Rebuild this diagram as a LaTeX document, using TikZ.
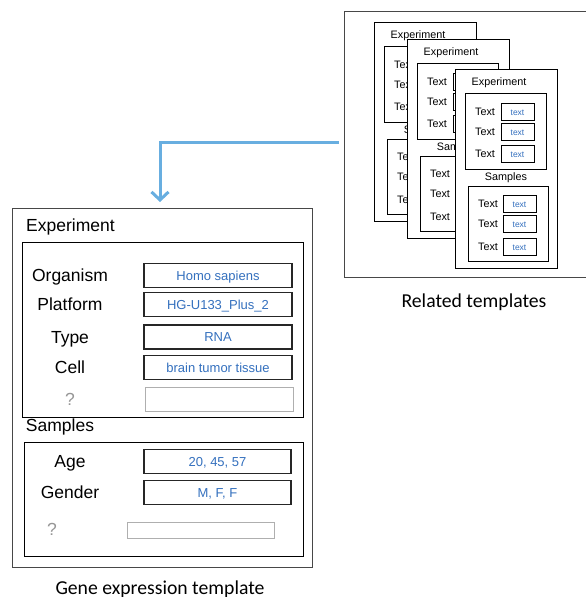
\documentclass[tikz,border=0pt]{standalone}
\usepackage{fontspec}
\setmainfont{Liberation Sans}
\newfontfamily\capfont{Carlito}
\usepackage{tikz}
\usetikzlibrary{arrows.meta}
\usetikzlibrary{positioning}
\usepackage{xcolor}
\definecolor{valblue}{RGB}{52,112,190}
\definecolor{flowblue}{RGB}{104,174,224}
\definecolor{qgray}{RGB}{150,150,150}
\definecolor{boxgray}{RGB}{175,175,175}
\tikzset{
  every node/.style={font=\rmfamily}
}

\begin{document}
\begin{tikzpicture}[x=1pt,y=-1pt]
  % Define styles for frames, panels and fields
  \tikzset{
    frame/.style={
      draw=black!72,
      fill=white,
      line width=1pt,
      inner sep=0pt
    },
    panel/.style={
      draw=black,
      line width=1pt,
      inner sep=0pt
    },
    lbl/.style={
      font=\fontsize{17.5}{20}\selectfont,
      text height=12.5pt,
      text depth=0pt,
      inner sep=0pt
    },
    field/.style={
      draw=black!85,
      line width=1.1pt,
      minimum width=148pt,
      minimum height=24pt,
      inner sep=0pt,
      text=valblue,
      font=\fontsize{13}{15}\selectfont,
      text height=9.3pt,
      text depth=0pt
    },
    card/.style={
      draw=black,
      fill=white,
      line width=0.9pt,
      minimum width=102pt,
      minimum height=199pt,
      inner sep=0pt
    },
    cardpanel/.style={
      draw=black,
      line width=0.9pt,
      inner sep=0pt
    },
    cardtxt/.style={
      font=\fontsize{10.8}{12}\selectfont,
      text height=7.7pt,
      text depth=0pt,
      inner sep=0pt
    },
    cardfield/.style={
      draw=black,
      line width=0.9pt,
      minimum width=33pt,
      minimum height=17pt,
      inner sep=0pt,
      text=valblue,
      font=\fontsize{8.5}{10}\selectfont,
      text height=6pt,
      text depth=0pt
    },
    caption/.style={
      font=\capfont\fontsize{19.7}{22}\selectfont,
      text height=12.7pt,
      text depth=0pt,
      inner sep=0pt
    },
    flow/.style={
      draw=flowblue,
      line width=3pt,
      -{Straight Barb[length=8pt,width=17pt]}
    }
  }
  \useasboundingbox (0,0) rectangle (586,597);
  \clip (0,0) rectangle (586,597);

  % Related templates (stacked cards)
  \node[frame, minimum width=250pt, minimum height=266pt] (related) at (469,144) {};
  \foreach \cx/\cy/\k in {374/22/a, 407/39/b, 455/69/c} {
    \begin{scope}[shift={(\cx,\cy)}]
      \node[card] (card\k) at (51,99.5) {};
      \node[cardtxt] (ctitle\k) at (44,13) {Experiment};
      \node[cardpanel, minimum width=81pt, minimum height=76pt] (cexp\k) at (50.5,62) {};
      \foreach \ry [count=\r] in {43,63,85} {
        \node[cardtxt] (cel\k\r) at (30,\ry) {Text};
        \node[cardfield] (cef\k\r) at (62.5,\ry) {text};
      }
      \node[cardtxt] (csam\k) at (51,108) {Samples};
      \node[cardpanel, minimum width=80pt, minimum height=75pt] (csp\k) at (53,154.5) {};
      \foreach \ry [count=\r] in {135,155,178} {
        \node[cardtxt] (csl\k\r) at (33,\ry) {Text};
        \node[cardfield] (csf\k\r) at (64.5,\ry) {text};
      }
    \end{scope}
  }
  \node[caption] (relcap) at (474,301) {Related templates};

  % Gene expression template
  \node[frame, minimum width=300pt, minimum height=359pt] (main) at (162,387.5) {};
  \node[lbl] (exptitle) at (70.5,225) {Experiment};
  \node[panel, minimum width=281pt, minimum height=175pt] (exppanel) at (162.5,329.5) {};
  \foreach \lab/\val/\y/\n in {Organism/Homo sapiens/275.5/org,
                               Platform/HG-U133\_Plus\_2/304.5/plat,
                               Type/RNA/337/type,
                               Cell/brain tumor tissue/367.5/cell} {
    \node[lbl] (\n lab) at (70,\y) {\lab};
    \node[field] (\n val) at (218,\y) {\val};
  }
  \node[lbl, text=qgray] (expq) at (70,399.5) {?};
  \node[field, draw=boxgray, line width=1pt] (expqval) at (219.5,399.5) {};

  \node[lbl] (samtitle) at (60,425) {Samples};
  \node[panel, minimum width=279pt, minimum height=114pt] (sampanel) at (163.5,499) {};
  \node[lbl] (agelab) at (70,461.5) {Age};
  \node[field, minimum width=147pt] (ageval) at (217.5,461.5) {20, 45, 57};
  \node[lbl] (genlab) at (70,492.5) {Gender};
  \node[field, minimum width=147pt] (genval) at (217.5,492.5) {M, F, F};
  \node[lbl, text=qgray] (samq) at (52,529.5) {?};
  \node[field, draw=boxgray, line width=1pt, minimum width=147pt, minimum height=16pt] (samqval) at (200.5,530) {};

  \node[caption] (maincap) at (160,588) {Gene expression template};

  % Arrow from related templates to the template
  \coordinate (drop) at (160,202);
  \draw[flow, shorten <=5pt] ([yshift=2pt]related.west) -| (drop);
\end{tikzpicture}
\end{document}
